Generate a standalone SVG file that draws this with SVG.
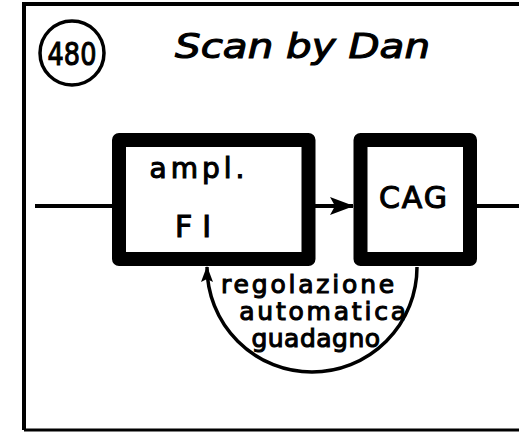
<svg xmlns="http://www.w3.org/2000/svg" width="519" height="433" viewBox="0 0 519 433">
<style>
.blk{fill:#fff;stroke:#000;stroke-width:14;stroke-linejoin:round}
.ln{fill:none;stroke:#000;stroke-width:4}
.t{font-family:"DejaVu Sans",sans-serif;fill:#000;stroke:#000;stroke-width:1.1}
</style>
<defs>
<marker id="ah" viewBox="0 0 24 18" refX="23" refY="9" markerWidth="24" markerHeight="18" markerUnits="userSpaceOnUse" orient="auto">
<path d="M0,0 L24,9 L0,18 L5,9 Z" fill="#000"/>
</marker>
<marker id="ah2" viewBox="0 0 16 12" refX="15" refY="6" markerWidth="16" markerHeight="12" markerUnits="userSpaceOnUse" orient="auto">
<path d="M0,0 L16,6 L0,12 L3,6 Z" fill="#000"/>
</marker>
</defs>
<rect width="519" height="433" fill="#fff"/>
<g id="frame">
<path d="M24,430 L24,4 L519,4" class="ln"/>
<path d="M24,430 L519,430" fill="none" stroke="#000" stroke-width="3"/>
</g>
<g id="label480">
<circle cx="72" cy="53" r="32" fill="none" stroke="#000" stroke-width="3.5"/>
<text x="72" y="65" class="t" font-size="32" text-anchor="middle" transform="translate(72,0) scale(0.8,1) translate(-72,0)">480</text>
</g>
<g id="signature">
<text x="175" y="58" class="t" font-size="34" font-style="italic" stroke-width="1.6" textLength="255" lengthAdjust="spacingAndGlyphs">Scan by Dan</text>
</g>
<g id="connectors">
<line x1="35" y1="206" x2="112" y2="206" class="ln"/>
<line x1="315" y1="206" x2="353" y2="206" class="ln" marker-end="url(#ah)"/>
<line x1="477" y1="206" x2="519" y2="206" class="ln"/>
<path d="M417,267 A105,105 0 0 1 207,267" fill="none" stroke="#000" stroke-width="3.5" marker-end="url(#ah2)"/>
</g>
<g id="ampl">
<rect x="119" y="140" width="189.5" height="119" class="blk"/>
<text x="199" y="178" class="t" font-size="28" text-anchor="middle" letter-spacing="4">ampl.</text>
<text x="198" y="237" class="t" font-size="30" text-anchor="middle" letter-spacing="10">FI</text>
</g>
<g id="cag">
<rect x="360.5" y="140" width="109.5" height="119" class="blk"/>
<text x="414" y="208" class="t" font-size="30" text-anchor="middle" letter-spacing="2">CAG</text>
</g>
<g id="feedback-label">
<text x="309" y="293" class="t" font-size="25" text-anchor="middle" letter-spacing="2.8">regolazione</text>
<text x="324" y="320" class="t" font-size="25" text-anchor="middle" letter-spacing="2.8">automatica</text>
<text x="316" y="347" class="t" font-size="25" text-anchor="middle" letter-spacing="0.5">guadagno</text>
</g>
</svg>
